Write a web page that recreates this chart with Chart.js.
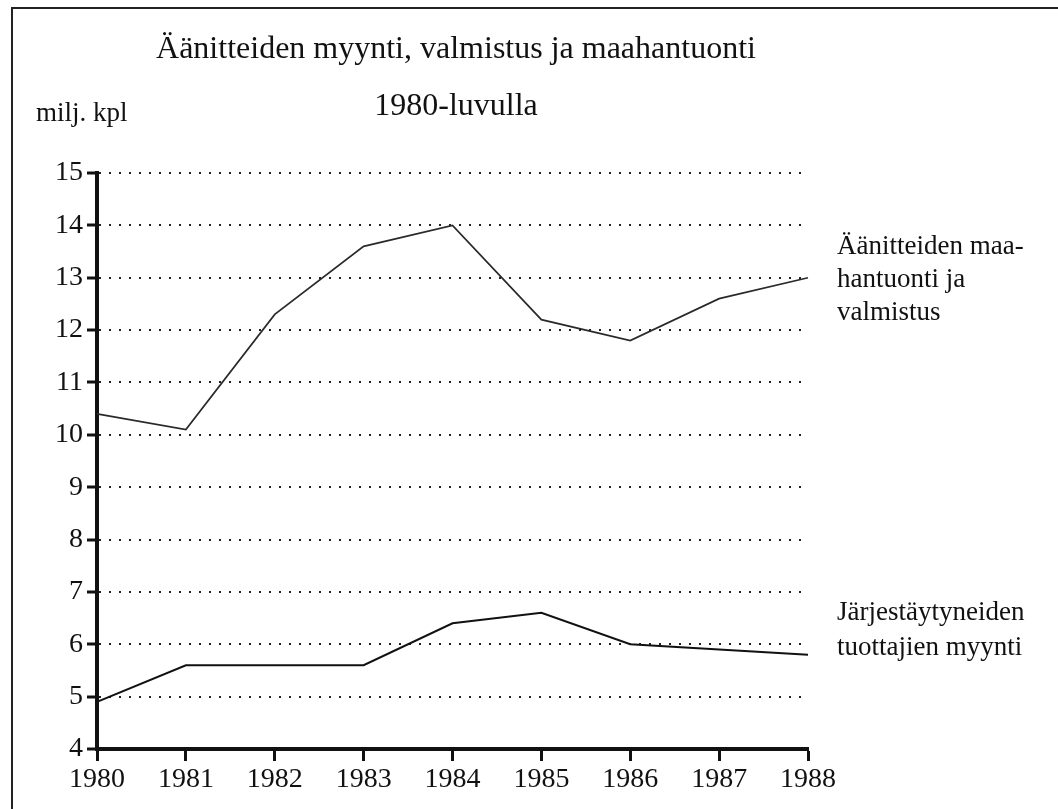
<!DOCTYPE html>
<html>
<head>
<meta charset="utf-8">
<script src="https://cdn.jsdelivr.net/npm/chart.js@4"></script>
<style>
  html, body { margin: 0; padding: 0; background: #fff; }
  #wrap { width: 1058px; height: 809px; position: relative; }
</style>
</head>
<body>
<div id="wrap"><canvas id="recordChart"></canvas></div>
<script>
// chart data
const years = ["1980", "1981", "1982", "1983", "1984", "1985", "1986", "1987", "1988"];
const importAndProduction = [10.4, 10.1, 12.3, 13.6, 14.0, 12.2, 11.8, 12.6, 13.0];
const organizedSales = [4.9, 5.6, 5.6, 5.6, 6.4, 6.6, 6.0, 5.9, 5.8];
const yMin = 4;
const yMax = 15;

const titleLines = ["Äänitteiden myynti, valmistus ja maahantuonti", "1980-luvulla"];
const unitLabel = "milj. kpl";
const importLabel = ["Äänitteiden maa-", "hantuonti ja", "valmistus"];
const salesLabel = ["Järjestäytyneiden", "tuottajien myynti"];

const serif = "'Liberation Serif', 'Times New Roman', serif";

// frame + texts drawn on the canvas
const decorations = {
    id: "decorations",
    afterDraw(chart) {
        const ctx = chart.ctx;
        ctx.save();

        // frame (left + top)
        ctx.strokeStyle = "#222";
        ctx.lineWidth = 2;
        ctx.beginPath();
        ctx.moveTo(12, 809);
        ctx.lineTo(12, 8);
        ctx.lineTo(1058, 8);
        ctx.stroke();

        ctx.fillStyle = "#111";
        ctx.textBaseline = "alphabetic";

        ctx.font = "32px " + serif;
        ctx.textAlign = "center";
        ctx.fillText(titleLines[0], 456, 58);
        ctx.fillText(titleLines[1], 456, 115);

        ctx.font = "27px " + serif;
        ctx.textAlign = "left";
        ctx.fillText(unitLabel, 36, 121);

        importLabel.forEach((t, i) => ctx.fillText(t, 837, 254 + i * 33));
        salesLabel.forEach((t, i) => ctx.fillText(t, 837, 620 + i * 35));

        ctx.restore();
    }
};

new Chart(document.getElementById("recordChart"), {
    type: "line",
    data: {
        labels: years,
        datasets: [{
            label: importLabel.join(" "),
            data: importAndProduction,
            borderColor: "#2a2a2a",
            borderWidth: 1.7,
            pointRadius: 0,
            tension: 0
        }, {
            label: salesLabel.join(" "),
            data: organizedSales,
            borderColor: "#111",
            borderWidth: 2,
            pointRadius: 0,
            tension: 0
        }]
    },
    options: {
        responsive: true,
        maintainAspectRatio: false,
        animation: false,
        layout: {
            padding: { top: 173, right: 250, bottom: 0, left: 0 }
        },
        plugins: {
            legend: { display: false },
            title: { display: false },
            tooltip: { enabled: false }
        },
        scales: {
            x: {
                offset: false,
                afterFit(scale) { scale.height = 60; },
                grid: {
                    drawOnChartArea: false,
                    drawTicks: true,
                    tickLength: 12,
                    tickWidth: 3,
                    tickColor: "#111"
                },
                border: { display: true, color: "#111", width: 4 },
                ticks: {
                    color: "#111",
                    font: { family: serif, size: 28 },
                    padding: 2,
                    maxRotation: 0,
                    autoSkip: false
                }
            },
            y: {
                min: yMin,
                max: yMax,
                afterFit(scale) { scale.width = 97; },
                grid: {
                    drawOnChartArea: true,
                    color: "#222",
                    lineWidth: 2,
                    drawTicks: true,
                    tickLength: 10,
                    tickWidth: 3,
                    tickColor: "#111"
                },
                border: { display: true, color: "#111", width: 4, dash: [2, 8] },
                ticks: {
                    stepSize: 1,
                    color: "#111",
                    font: { family: serif, size: 28 },
                    padding: 4
                }
            }
        }
    },
    plugins: [decorations]
});
</script>
</body>
</html>
